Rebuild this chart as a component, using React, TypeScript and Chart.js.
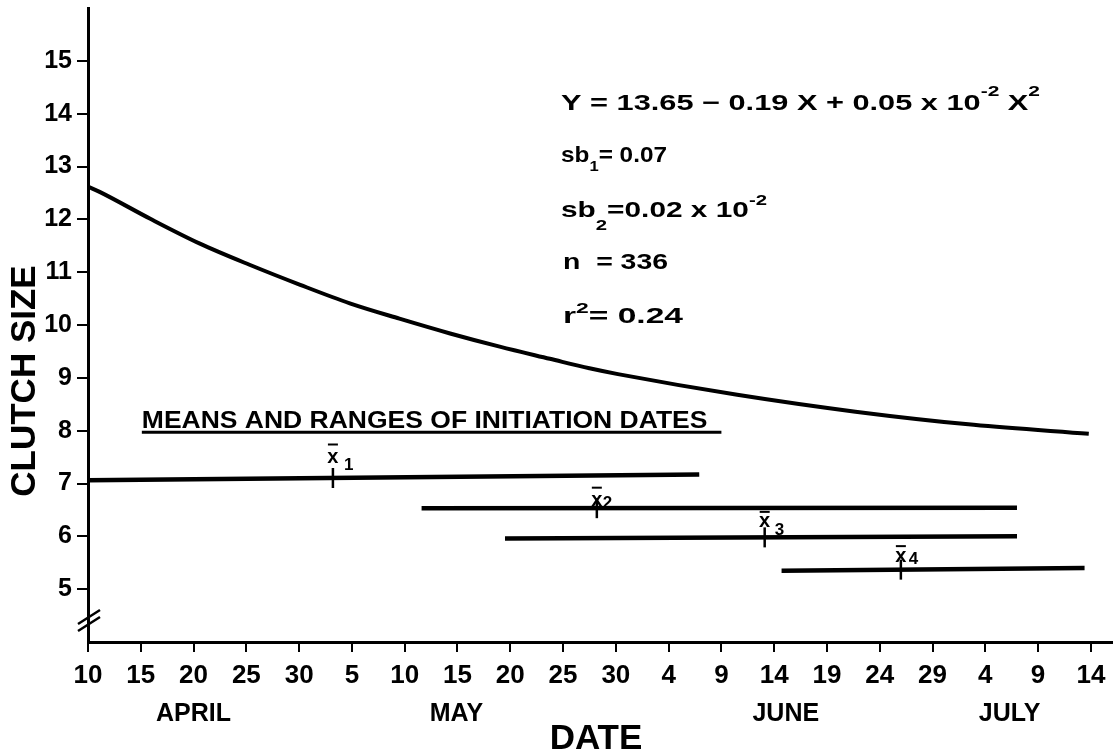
import React, { useEffect, useRef } from 'react';
import { Chart, registerables } from 'chart.js';

Chart.register(...registerables);

// ---- data (x = days after 10 April) ----
const curveDays = [0, 1.1, 5.9, 10.6, 15.3, 20.1, 24.8, 29.5, 34.3, 39.0, 43.75, 47.5, 50.2, 61.5, 72.7, 83.9, 94.8];
const curveClutch = [12.62, 12.52, 12.01, 11.54, 11.14, 10.76, 10.41, 10.12, 9.84, 9.59, 9.36, 9.18, 9.07, 8.68, 8.36, 8.11, 7.94];

const rangeStart = [0, 31.6, 39.5, 65.7];
const rangeEnd = [57.9, 88.0, 88.0, 94.4];
const rangeLevelStart = [7.06, 6.53, 5.96, 5.35];
const rangeLevelEnd = [7.17, 6.54, 6.0, 5.4];
const meanDays = [23.2, 48.2, 64.1, 77.0];
const meanNames = ['1', '2', '3', '4'];

const headerStart = 5.1;
const headerEnd = 60.0;
const headerLevel = 7.97;

const xTickDays = [0, 5, 10, 15, 20, 25, 30, 35, 40, 45, 50, 55, 60, 65, 70, 75, 80, 85, 90, 95];
const xTickLabels = ['10', '15', '20', '25', '30', '5', '10', '15', '20', '25', '30', '4', '9', '14', '19', '24', '29', '4', '9', '14'];
const yTicks = [5, 6, 7, 8, 9, 10, 11, 12, 13, 14, 15];
const months = ['APRIL', 'MAY', 'JUNE', 'JULY'];
const monthDays = [10.0, 34.9, 66.1, 87.3];

const F = '"Liberation Sans", Arial, sans-serif';

type Run = { t: string; s: number; dy?: number };

function drawRunsFit(ctx: CanvasRenderingContext2D, x: number, y: number, runs: Run[], right: number) {
  ctx.save();
  ctx.textAlign = 'left';
  ctx.textBaseline = 'alphabetic';
  let w = 0;
  for (const r of runs) {
    ctx.font = `bold ${r.s}px ${F}`;
    w += ctx.measureText(r.t).width;
  }
  const k = (right - x) / w;
  ctx.translate(x, y);
  ctx.scale(k, 1);
  let cx = 0;
  for (const r of runs) {
    ctx.font = `bold ${r.s}px ${F}`;
    ctx.fillText(r.t, cx, r.dy || 0);
    cx += ctx.measureText(r.t).width;
  }
  ctx.restore();
}

function levelAt(i: number, d: number) {
  const t = (d - rangeStart[i]) / (rangeEnd[i] - rangeStart[i]);
  return rangeLevelStart[i] + t * (rangeLevelEnd[i] - rangeLevelStart[i]);
}

const annotPlugin = {
  id: 'annot',
  afterDraw(chart: any) {
    const ctx: CanvasRenderingContext2D = chart.ctx;
    const xs = chart.scales.x;
    const ys = chart.scales.y;
    ctx.save();
    ctx.fillStyle = '#000';
    ctx.strokeStyle = '#000';

    // y axis title
    ctx.save();
    ctx.font = `bold 35px ${F}`;
    ctx.textAlign = 'center';
    ctx.textBaseline = 'middle';
    ctx.translate(25, 381);
    ctx.rotate(-Math.PI / 2);
    ctx.fillText('CLUTCH SIZE', 0, 0);
    ctx.restore();

    // x axis title
    ctx.font = `bold 35px ${F}`;
    ctx.textAlign = 'center';
    ctx.textBaseline = 'middle';
    ctx.fillText('DATE', 596, 739);

    // months
    ctx.font = `bold 25px ${F}`;
    months.forEach((m, i) => {
      ctx.fillText(m, xs.getPixelForValue(monthDays[i]), 714);
    });

    // axis break
    ctx.lineWidth = 2.5;
    const bx = chart.chartArea.left;
    ctx.beginPath();
    ctx.moveTo(bx - 10, 624); ctx.lineTo(bx + 12, 610);
    ctx.moveTo(bx - 10, 631); ctx.lineTo(bx + 12, 617);
    ctx.stroke();

    // header
    const hx = xs.getPixelForValue(headerStart);
    drawRunsFit(ctx, hx, ys.getPixelForValue(headerLevel) - 4,
      [{ t: 'MEANS AND RANGES OF INITIATION DATES', s: 24 }], xs.getPixelForValue(headerEnd) - 14);

    // mean labels
    const offs = [15, 2, 10, 8];
    const barGap = [8, 8, 5, 5];
    const subDx = [13, 8, 12, 10];
    const subDy = [7, 2, 8, 2];
    meanDays.forEach((d, i) => {
      const cx = xs.getPixelForValue(d);
      const ly = ys.getPixelForValue(levelAt(i, d));
      const bottom = ly - offs[i];
      ctx.font = `bold 20px ${F}`;
      ctx.textAlign = 'center';
      ctx.textBaseline = 'alphabetic';
      ctx.fillText('x', cx, bottom);
      ctx.lineWidth = 2;
      ctx.beginPath();
      const by = bottom - 10.5 - barGap[i];
      ctx.moveTo(cx - 5, by);
      ctx.lineTo(cx + 5, by);
      ctx.stroke();
      ctx.font = `bold 17px ${F}`;
      ctx.textAlign = 'left';
      ctx.fillText(meanNames[i], cx + subDx[i] - 2, bottom + subDy[i]);
    });

    // equation block
    drawRunsFit(ctx, 561, 110, [
      { t: 'Y = 13.65 \u2212 0.19 X + 0.05 x 10', s: 22 },
      { t: '-2', s: 15, dy: -14 },
      { t: ' X', s: 22 },
      { t: '2', s: 15, dy: -14 },
    ], 1040);
    drawRunsFit(ctx, 561, 162, [
      { t: 'sb', s: 22 },
      { t: '1', s: 15, dy: 9 },
      { t: '= 0.07', s: 22 },
    ], 667);
    drawRunsFit(ctx, 561, 217, [
      { t: 'sb', s: 22 },
      { t: '2', s: 15, dy: 13 },
      { t: '=0.02 x 10', s: 22 },
      { t: '-2', s: 15, dy: -12 },
    ], 767);
    drawRunsFit(ctx, 563, 269, [{ t: 'n  = 336', s: 22 }], 668);
    drawRunsFit(ctx, 563, 323, [
      { t: 'r', s: 22 },
      { t: '2', s: 15, dy: -10 },
      { t: '= 0.24', s: 22 },
    ], 683);

    ctx.restore();
  },
};

export default function App() {
  const ref = useRef<HTMLCanvasElement>(null);

  useEffect(() => {
    document.body.style.margin = '0';
    document.body.style.overflow = 'hidden';
    const canvas = ref.current!;

    const curve = curveDays.map((d, i) => ({ x: d, y: curveClutch[i] }));
    const ranges = rangeStart.map((s, i) => ({
      type: 'scatter' as const,
      data: [
        { x: s, y: rangeLevelStart[i] },
        { x: rangeEnd[i], y: rangeLevelEnd[i] },
      ],
      showLine: true,
      borderColor: '#000',
      borderWidth: 4.5,
      pointRadius: 0,
    }));
    const means = meanDays.map((d, i) => ({ x: d, y: levelAt(i, d) }));

    const chart = new Chart(canvas, {
      type: 'scatter',
      data: {
        datasets: [
          {
            data: curve,
            showLine: true,
            borderColor: '#000',
            borderWidth: 4,
            pointRadius: 0,
            cubicInterpolationMode: 'monotone',
          },
          {
            data: [
              { x: headerStart, y: headerLevel },
              { x: headerEnd, y: headerLevel },
            ],
            showLine: true,
            borderColor: '#000',
            borderWidth: 3,
            pointRadius: 0,
          },
          ...ranges,
          {
            data: means,
            showLine: false,
            pointStyle: 'line',
            rotation: 90,
            radius: 10,
            borderColor: '#000',
            borderWidth: 2.5,
          },
        ] as any,
      },
      options: {
        responsive: false,
        animation: false,
        layout: { autoPadding: false, padding: { top: 8, right: 7, left: 0, bottom: 0 } },
        plugins: { legend: { display: false }, tooltip: { enabled: false } },
        scales: {
          x: {
            type: 'linear',
            min: 0,
            max: 97,
            afterBuildTicks: (s: any) => {
              s.ticks = xTickDays.map((v) => ({ value: v }));
            },
            afterFit: (s: any) => {
              s.height = 111;
              s.paddingLeft = 0;
              s.paddingRight = 0;
            },
            grid: { display: true, drawOnChartArea: false, drawTicks: true, tickLength: 10, color: '#000', lineWidth: 2 },
            border: { display: true, color: '#000', width: 3 },
            ticks: {
              autoSkip: false,
              maxRotation: 0,
              padding: 8,
              color: '#000',
              font: { family: F, size: 26, weight: 'bold' },
              callback: (v: any) => xTickLabels[xTickDays.indexOf(Number(v))] ?? '',
            },
          },
          y: {
            type: 'linear',
            min: 4,
            max: 16,
            afterBuildTicks: (s: any) => {
              s.ticks = yTicks.map((v) => ({ value: v }));
            },
            afterFit: (s: any) => {
              s.width = 88;
              s.paddingTop = 0;
              s.paddingBottom = 0;
            },
            grid: { display: true, drawOnChartArea: false, drawTicks: true, tickLength: 11, color: '#000', lineWidth: 2 },
            border: { display: true, color: '#000', width: 3 },
            ticks: {
              padding: 5,
              color: '#000',
              font: { family: F, size: 25, weight: 'bold' },
              callback: (v: any) => String(v),
            },
          },
        },
      },
      plugins: [annotPlugin],
    });
    return () => chart.destroy();
  }, []);

  return <canvas ref={ref} width={1119} height={753} style={{ display: 'block', background: '#fff' }} />;
}
